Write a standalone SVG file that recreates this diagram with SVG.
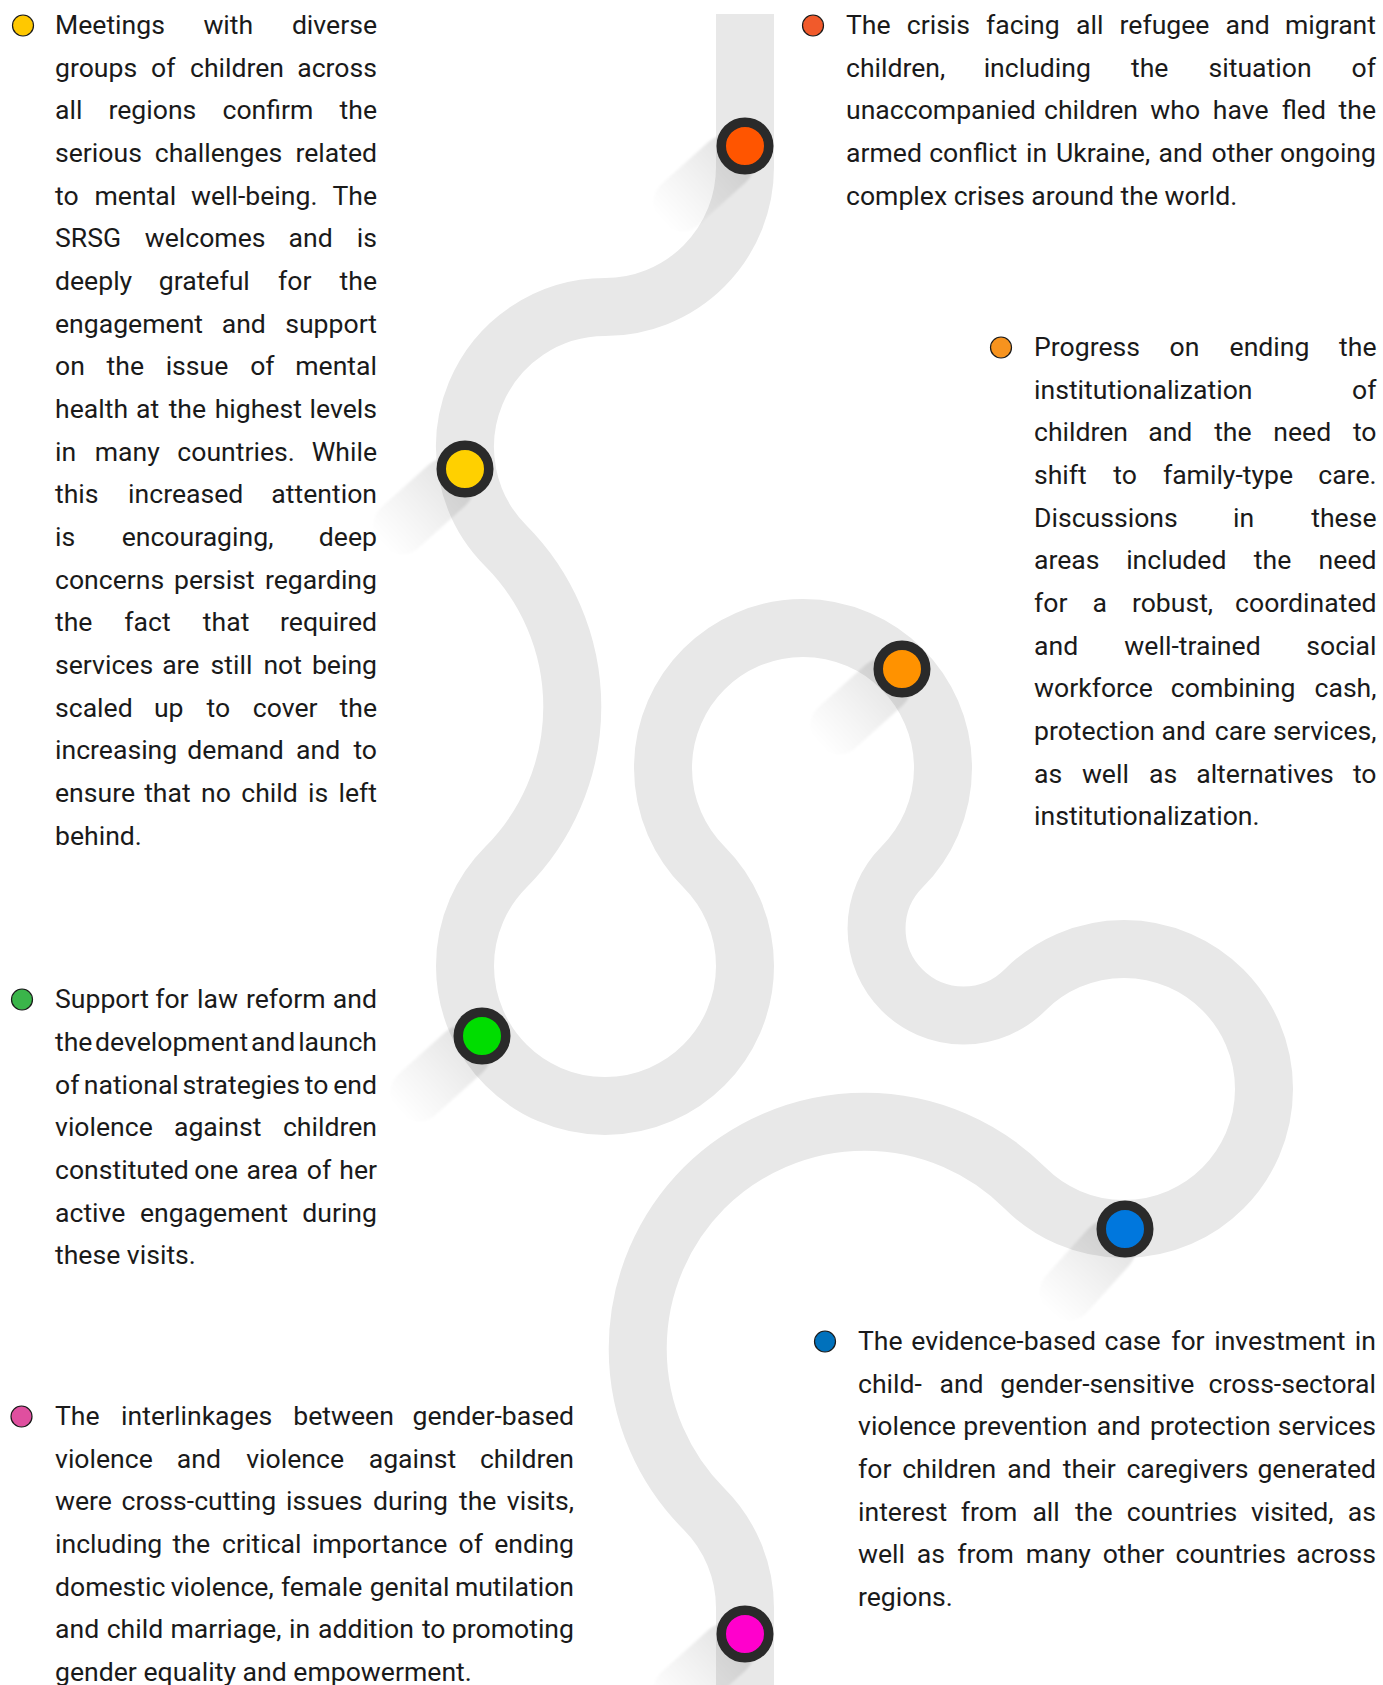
<svg xmlns="http://www.w3.org/2000/svg" width="1383" height="1685" viewBox="0 0 1383 1685">
<defs>
<style>
.t{font-family:Roboto,"Liberation Sans",sans-serif;font-size:26.6px;fill:#1a1a1a}
.m{text-anchor:middle}
.e{text-anchor:end}
.road{fill:none;stroke:#e8e8e8;stroke-width:58}
.ring{stroke:#2a2a2a;stroke-width:9.5}
.bul{stroke:#1a1a1a;stroke-width:1.2}
</style>
<linearGradient id="sg" x1="0" y1="0" x2="1" y2="0">
<stop offset="0" stop-color="#000" stop-opacity="0.12"/>
<stop offset="0.55" stop-color="#000" stop-opacity="0.05"/>
<stop offset="1" stop-color="#000" stop-opacity="0"/>
</linearGradient>
<filter id="blur" x="-30%" y="-30%" width="160%" height="160%"><feGaussianBlur stdDeviation="1"/></filter>
<rect id="shadow" x="0" y="-27.5" width="112" height="55" rx="24" fill="url(#sg)" filter="url(#blur)"/>
</defs>
<rect width="1383" height="1685" fill="#fff"/>

<g id="connectors">
<path class="road" d="M 745 14 L 745 167 A 140 140 0 0 1 605 307 A 140 140 0 0 0 506 546 A 227 227 0 0 1 506 867 A 140 140 0 1 0 704 867 A 140 140 0 1 1 902 867 A 87 87 0 0 0 902 990 A 87 87 0 0 0 1025 990 A 140 140 0 1 1 1025 1188 A 227 227 0 0 0 704 1188 A 227 227 0 0 0 704 1509 A 140 140 0 0 1 745 1608 L 745 1700"/>
</g>

<g id="node-red">
<use href="#shadow" transform="translate(745,146) rotate(138)"/>
<circle class="ring" cx="745" cy="146" r="23.75" fill="#ff5500"/>
</g>
<g id="node-yellow">
<use href="#shadow" transform="translate(465,469) rotate(138)"/>
<circle class="ring" cx="465" cy="469" r="23.75" fill="#ffd000"/>
</g>
<g id="node-orange">
<use href="#shadow" transform="translate(902,669) rotate(138)"/>
<circle class="ring" cx="902" cy="669" r="23.75" fill="#ff9200"/>
</g>
<g id="node-green">
<use href="#shadow" transform="translate(482,1036) rotate(138)"/>
<circle class="ring" cx="482" cy="1036" r="23.75" fill="#00dd00"/>
</g>
<g id="node-blue">
<use href="#shadow" transform="translate(1125,1229) rotate(132)"/>
<circle class="ring" cx="1125" cy="1229" r="23.75" fill="#0077dd"/>
</g>
<g id="node-magenta">
<use href="#shadow" transform="translate(745,1634) rotate(138)"/>
<circle class="ring" cx="745" cy="1634" r="23.75" fill="#ff00cc"/>
</g>

<g id="text-yellow">
<circle class="bul" cx="23" cy="25.5" r="10.5" fill="#ffc800"/>
<text class="t" y="34"><tspan x="55">Meetings</tspan><tspan class="m" x="228.3">with</tspan><tspan class="e" x="377">diverse</tspan></text>
<text class="t" y="76.67"><tspan x="55">groups</tspan><tspan class="m" x="163.2">of</tspan><tspan class="m" x="237">children</tspan><tspan class="e" x="377">across</tspan></text>
<text class="t" y="119.33"><tspan x="55">all</tspan><tspan class="m" x="152.4">regions</tspan><tspan class="m" x="267.9">confirm</tspan><tspan class="e" x="377">the</tspan></text>
<text class="t" y="162"><tspan x="55">serious</tspan><tspan class="m" x="218.5">challenges</tspan><tspan class="e" x="377">related</tspan></text>
<text class="t" y="204.67"><tspan x="55">to</tspan><tspan class="m" x="135.4">mental</tspan><tspan class="m" x="254.2">well-being.</tspan><tspan class="e" x="377">The</tspan></text>
<text class="t" y="247.33"><tspan x="55">SRSG</tspan><tspan class="m" x="205.1">welcomes</tspan><tspan class="m" x="310.7">and</tspan><tspan class="e" x="377">is</tspan></text>
<text class="t" y="290"><tspan x="55">deeply</tspan><tspan class="m" x="204.3">grateful</tspan><tspan class="m" x="294.7">for</tspan><tspan class="e" x="377">the</tspan></text>
<text class="t" y="332.67"><tspan x="55">engagement</tspan><tspan class="m" x="243.8">and</tspan><tspan class="e" x="377">support</tspan></text>
<text class="t" y="375.33"><tspan x="55">on</tspan><tspan class="m" x="125.3">the</tspan><tspan class="m" x="197">issue</tspan><tspan class="m" x="262.4">of</tspan><tspan class="e" x="377">mental</tspan></text>
<text class="t" y="418"><tspan x="55">health</tspan><tspan class="m" x="147.7">at</tspan><tspan class="m" x="187.4">the</tspan><tspan class="m" x="258.3">highest</tspan><tspan class="e" x="377">levels</tspan></text>
<text class="t" y="460.67"><tspan x="55">in</tspan><tspan class="m" x="127.2">many</tspan><tspan class="m" x="236.1">countries.</tspan><tspan class="e" x="377">While</tspan></text>
<text class="t" y="503.33"><tspan x="55">this</tspan><tspan class="m" x="185.7">increased</tspan><tspan class="e" x="377">attention</tspan></text>
<text class="t" y="546"><tspan x="55">is</tspan><tspan class="m" x="197.5">encouraging,</tspan><tspan class="e" x="377">deep</tspan></text>
<text class="t" y="588.67"><tspan x="55">concerns</tspan><tspan class="m" x="214.4">persist</tspan><tspan class="e" x="377">regarding</tspan></text>
<text class="t" y="631.33"><tspan x="55">the</tspan><tspan class="m" x="147.5">fact</tspan><tspan class="m" x="226.1">that</tspan><tspan class="e" x="377">required</tspan></text>
<text class="t" y="674"><tspan x="55">services</tspan><tspan class="m" x="180.8">are</tspan><tspan class="m" x="231.5">still</tspan><tspan class="m" x="282.7">not</tspan><tspan class="e" x="377">being</tspan></text>
<text class="t" y="716.67"><tspan x="55">scaled</tspan><tspan class="m" x="168.7">up</tspan><tspan class="m" x="218.3">to</tspan><tspan class="m" x="285.2">cover</tspan><tspan class="e" x="377">the</tspan></text>
<text class="t" y="759.33"><tspan x="55">increasing</tspan><tspan class="m" x="235.6">demand</tspan><tspan class="m" x="318.2">and</tspan><tspan class="e" x="377">to</tspan></text>
<text class="t" y="802"><tspan x="55">ensure</tspan><tspan class="m" x="167.4">that</tspan><tspan class="m" x="216">no</tspan><tspan class="m" x="269.5">child</tspan><tspan class="m" x="318.2">is</tspan><tspan class="e" x="377">left</tspan></text>
<text class="t" x="55" y="844.67">behind.</text>
</g>

<g id="text-red">
<circle class="bul" cx="813" cy="25.5" r="10.5" fill="#f15a2b"/>
<text class="t" y="34"><tspan x="846">The</tspan><tspan class="m" x="938.4">crisis</tspan><tspan class="m" x="1022.8">facing</tspan><tspan class="m" x="1089.7">all</tspan><tspan class="m" x="1164.5">refugee</tspan><tspan class="m" x="1247.6">and</tspan><tspan class="e" x="1376">migrant</tspan></text>
<text class="t" y="76.67"><tspan x="846">children,</tspan><tspan class="m" x="1037.3">including</tspan><tspan class="m" x="1149.7">the</tspan><tspan class="m" x="1260.1">situation</tspan><tspan class="e" x="1376">of</tspan></text>
<text class="t" y="119.33"><tspan x="846">unaccompanied</tspan><tspan class="m" x="1091">children</tspan><tspan class="m" x="1175.2">who</tspan><tspan class="m" x="1240.7">have</tspan><tspan class="m" x="1303.8">fled</tspan><tspan class="e" x="1376">the</tspan></text>
<text class="t" y="162"><tspan x="846">armed</tspan><tspan class="m" x="973.2">conflict</tspan><tspan class="m" x="1036.7">in</tspan><tspan class="m" x="1103.1">Ukraine,</tspan><tspan class="m" x="1180.7">and</tspan><tspan class="m" x="1242.3">other</tspan><tspan class="e" x="1376">ongoing</tspan></text>
<text class="t" x="846" y="204.67">complex crises around the world.</text>
</g>

<g id="text-orange">
<circle class="bul" cx="1001" cy="347.5" r="10.5" fill="#f7931e"/>
<text class="t" y="356"><tspan x="1034">Progress</tspan><tspan class="m" x="1184.4">on</tspan><tspan class="m" x="1269.5">ending</tspan><tspan class="e" x="1376.5">the</tspan></text>
<text class="t" y="398.67"><tspan x="1034">institutionalization</tspan><tspan class="e" x="1376.5">of</tspan></text>
<text class="t" y="441.33"><tspan x="1034">children</tspan><tspan class="m" x="1170.3">and</tspan><tspan class="m" x="1232.9">the</tspan><tspan class="m" x="1302.2">need</tspan><tspan class="e" x="1376.5">to</tspan></text>
<text class="t" y="484"><tspan x="1034">shift</tspan><tspan class="m" x="1125">to</tspan><tspan class="m" x="1228">family-type</tspan><tspan class="e" x="1376.5">care.</tspan></text>
<text class="t" y="526.67"><tspan x="1034">Discussions</tspan><tspan class="m" x="1243.7">in</tspan><tspan class="e" x="1376.5">these</tspan></text>
<text class="t" y="569.33"><tspan x="1034">areas</tspan><tspan class="m" x="1176.3">included</tspan><tspan class="m" x="1272.6">the</tspan><tspan class="e" x="1376.5">need</tspan></text>
<text class="t" y="612"><tspan x="1034">for</tspan><tspan class="m" x="1099.7">a</tspan><tspan class="m" x="1172.5">robust,</tspan><tspan class="e" x="1376.5">coordinated</tspan></text>
<text class="t" y="654.67"><tspan x="1034">and</tspan><tspan class="m" x="1192.5">well-trained</tspan><tspan class="e" x="1376.5">social</tspan></text>
<text class="t" y="697.33"><tspan x="1034">workforce</tspan><tspan class="m" x="1233.1">combining</tspan><tspan class="e" x="1376.5">cash,</tspan></text>
<text class="t" y="740"><tspan x="1034">protection</tspan><tspan class="m" x="1183.7">and</tspan><tspan class="m" x="1240.5">care</tspan><tspan class="e" x="1376.5">services,</tspan></text>
<text class="t" y="782.67"><tspan x="1034">as</tspan><tspan class="m" x="1105.4">well</tspan><tspan class="m" x="1163.1">as</tspan><tspan class="m" x="1265">alternatives</tspan><tspan class="e" x="1376.5">to</tspan></text>
<text class="t" x="1034" y="825.33">institutionalization.</text>
</g>

<g id="text-green">
<circle class="bul" cx="22" cy="999.5" r="10.5" fill="#3ab54a"/>
<text class="t" y="1008.3"><tspan x="55">Support</tspan><tspan class="m" x="171.9">for</tspan><tspan class="m" x="217.5">law</tspan><tspan class="m" x="285.7">reform</tspan><tspan class="e" x="377">and</tspan></text>
<text class="t" y="1051"><tspan x="55">the</tspan><tspan class="m" x="171.6">development</tspan><tspan class="m" x="273.2">and</tspan><tspan class="e" x="377">launch</tspan></text>
<text class="t" y="1093.6"><tspan x="55">of</tspan><tspan class="m" x="131.3">national</tspan><tspan class="m" x="241.3">strategies</tspan><tspan class="m" x="316.6">to</tspan><tspan class="e" x="377">end</tspan></text>
<text class="t" y="1136.3"><tspan x="55">violence</tspan><tspan class="m" x="217.7">against</tspan><tspan class="e" x="377">children</tspan></text>
<text class="t" y="1179"><tspan x="55">constituted</tspan><tspan class="m" x="216.3">one</tspan><tspan class="m" x="272.4">area</tspan><tspan class="m" x="319">of</tspan><tspan class="e" x="377">her</tspan></text>
<text class="t" y="1221.6"><tspan x="55">active</tspan><tspan class="m" x="214">engagement</tspan><tspan class="e" x="377">during</tspan></text>
<text class="t" x="55" y="1264.3">these visits.</text>
</g>

<g id="text-pink">
<circle class="bul" cx="21.5" cy="1416.5" r="10.5" fill="#df4f9f"/>
<text class="t" y="1425"><tspan x="55">The</tspan><tspan class="m" x="196.7">interlinkages</tspan><tspan class="m" x="343.6">between</tspan><tspan class="e" x="574">gender-based</tspan></text>
<text class="t" y="1467.67"><tspan x="55">violence</tspan><tspan class="m" x="198.9">and</tspan><tspan class="m" x="295.1">violence</tspan><tspan class="m" x="412.4">against</tspan><tspan class="e" x="574">children</tspan></text>
<text class="t" y="1510.33"><tspan x="55">were</tspan><tspan class="m" x="198.9">cross-cutting</tspan><tspan class="m" x="324.3">issues</tspan><tspan class="m" x="410.5">during</tspan><tspan class="m" x="477.7">the</tspan><tspan class="e" x="574">visits,</tspan></text>
<text class="t" y="1553"><tspan x="55">including</tspan><tspan class="m" x="191.3">the</tspan><tspan class="m" x="261.8">critical</tspan><tspan class="m" x="379.7">importance</tspan><tspan class="m" x="470.8">of</tspan><tspan class="e" x="574">ending</tspan></text>
<text class="t" y="1595.67"><tspan x="55">domestic</tspan><tspan class="m" x="222.2">violence,</tspan><tspan class="m" x="321.6">female</tspan><tspan class="m" x="409.6">genital</tspan><tspan class="e" x="574">mutilation</tspan></text>
<text class="t" y="1638.33"><tspan x="55">and</tspan><tspan class="m" x="134.9">child</tspan><tspan class="m" x="225.9">marriage,</tspan><tspan class="m" x="299.6">in</tspan><tspan class="m" x="365.9">addition</tspan><tspan class="m" x="433.7">to</tspan><tspan class="e" x="574">promoting</tspan></text>
<text class="t" x="55" y="1681">gender equality and empowerment.</text>
</g>

<g id="text-blue">
<circle class="bul" cx="825" cy="1341.5" r="10.5" fill="#0071bc"/>
<text class="t" y="1350"><tspan x="858">The</tspan><tspan class="m" x="1003.6">evidence-based</tspan><tspan class="m" x="1132.6">case</tspan><tspan class="m" x="1187.9">for</tspan><tspan class="m" x="1279.8">investment</tspan><tspan class="e" x="1376">in</tspan></text>
<text class="t" y="1392.67"><tspan x="858">child-</tspan><tspan class="m" x="961.5">and</tspan><tspan class="m" x="1097.3">gender-sensitive</tspan><tspan class="e" x="1376">cross-sectoral</tspan></text>
<text class="t" y="1435.33"><tspan x="858">violence</tspan><tspan class="m" x="1025.4">prevention</tspan><tspan class="m" x="1118.8">and</tspan><tspan class="m" x="1210.4">protection</tspan><tspan class="e" x="1376">services</tspan></text>
<text class="t" y="1478"><tspan x="858">for</tspan><tspan class="m" x="949.2">children</tspan><tspan class="m" x="1029.3">and</tspan><tspan class="m" x="1089.3">their</tspan><tspan class="m" x="1187.5">caregivers</tspan><tspan class="e" x="1376">generated</tspan></text>
<text class="t" y="1520.67"><tspan x="858">interest</tspan><tspan class="m" x="989">from</tspan><tspan class="m" x="1046.1">all</tspan><tspan class="m" x="1093.8">the</tspan><tspan class="m" x="1182">countries</tspan><tspan class="m" x="1292.2">visited,</tspan><tspan class="e" x="1376">as</tspan></text>
<text class="t" y="1563.33"><tspan x="858">well</tspan><tspan class="m" x="930.9">as</tspan><tspan class="m" x="985.6">from</tspan><tspan class="m" x="1058.4">many</tspan><tspan class="m" x="1133.5">other</tspan><tspan class="m" x="1230.7">countries</tspan><tspan class="e" x="1376">across</tspan></text>
<text class="t" x="858" y="1606">regions.</text>
</g>
</svg>
